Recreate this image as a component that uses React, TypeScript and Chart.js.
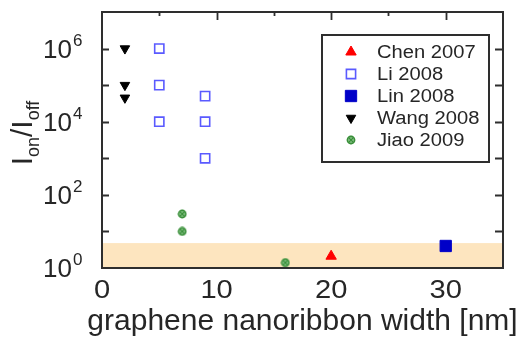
import React, { useEffect, useRef } from 'react';
import { Chart, registerables } from 'chart.js';

Chart.register(...registerables);

// Reported on/off current ratios versus graphene nanoribbon width
const SERIES_NAMES = ['Chen 2007', 'Li 2008', 'Lin 2008', 'Wang 2008', 'Jiao 2009'];

const CHEN_WIDTH = [20];
const CHEN_RATIO = [2.1];

const LI_WIDTH = [5, 5, 5, 9, 9, 9];
const LI_RATIO = [1e6, 1e5, 1e4, 5e4, 1e4, 1e3];

const LIN_WIDTH = [30];
const LIN_RATIO = [4];

const WANG_WIDTH = [2, 2, 2];
const WANG_RATIO = [1e6, 1e5, 4.5e4];

const JIAO_WIDTH = [7, 7, 16];
const JIAO_RATIO = [30, 10, 1.4];

const X_RANGE = [0, 35];
const Y_RANGE = [1, 1e7];
const X_MAJOR_TICKS = [0, 10, 20, 30];
const X_MINOR_TICKS = [5, 15, 25];
const Y_DECADE_TICKS = [10, 100, 1e3, 1e4, 1e5, 1e6];
const Y_LABEL_EXPONENTS = [0, 2, 4, 6];

// Shaded region of low on/off ratio
const BAND_RANGE = [1, 4.8];

const TEXT_COLOR = '#262626';
const AXIS_COLOR = '#2e2e2e';

const toPoints = (xs: number[], ys: number[]) => xs.map((x, i) => ({ x, y: ys[i] }));

function makeJiaoMarker(): HTMLCanvasElement {
  const c = document.createElement('canvas');
  c.width = 10;
  c.height = 10;
  const g = c.getContext('2d')!;
  g.fillStyle = '#8fc88f';
  g.beginPath();
  g.arc(5, 5, 4.2, 0, Math.PI * 2);
  g.fill();
  g.strokeStyle = '#3a8f3a';
  g.lineWidth = 1.6;
  g.beginPath();
  g.arc(5, 5, 3.6, 0, Math.PI * 2);
  g.stroke();
  g.lineWidth = 1.2;
  g.beginPath();
  g.moveTo(3, 3);
  g.lineTo(7, 7);
  g.moveTo(7, 3);
  g.lineTo(3, 7);
  g.stroke();
  return c;
}

function stretchedText(
  ctx: CanvasRenderingContext2D,
  text: string,
  x: number,
  y: number,
  font: string,
  align: CanvasTextAlign,
  sx: number
) {
  ctx.save();
  ctx.font = font;
  ctx.textAlign = align;
  ctx.textBaseline = 'alphabetic';
  ctx.fillStyle = TEXT_COLOR;
  ctx.translate(x, y);
  ctx.scale(sx, 1);
  ctx.fillText(text, 0, 0);
  ctx.restore();
}

function drawMarker(ctx: CanvasRenderingContext2D, ds: any, x: number, y: number) {
  const style = ds.pointStyle;
  const r = ds.pointRadius;
  ctx.save();
  ctx.fillStyle = ds.pointBackgroundColor;
  ctx.strokeStyle = ds.pointBorderColor;
  ctx.lineWidth = ds.pointBorderWidth;
  if (style instanceof HTMLCanvasElement) {
    ctx.drawImage(style, x - style.width / 2, y - style.height / 2);
  } else if (style === 'triangle') {
    let a = ((ds.pointRotation || 0) * Math.PI) / 180;
    ctx.beginPath();
    for (let k = 0; k < 3; k++) {
      const px = x + Math.sin(a) * r;
      const py = y - Math.cos(a) * r;
      if (k === 0) ctx.moveTo(px, py);
      else ctx.lineTo(px, py);
      a += (2 * Math.PI) / 3;
    }
    ctx.closePath();
    ctx.fill();
    ctx.stroke();
  } else {
    const s = Math.SQRT1_2 * r;
    ctx.beginPath();
    ctx.rect(x - s, y - s, 2 * s, 2 * s);
    ctx.fill();
    ctx.stroke();
  }
  ctx.restore();
}

const bandPlugin = {
  id: 'lowRatioBand',
  beforeDatasetsDraw(chart: any) {
    const { ctx, chartArea, scales } = chart;
    const yTop = scales.y.getPixelForValue(BAND_RANGE[1]);
    const yBot = scales.y.getPixelForValue(BAND_RANGE[0]);
    ctx.save();
    ctx.fillStyle = '#fde5bf';
    ctx.fillRect(chartArea.left, yTop, chartArea.right - chartArea.left, yBot - yTop);
    ctx.restore();
  },
};

const framePlugin = {
  id: 'frameAndLabels',
  afterDatasetsDraw(chart: any) {
    const { ctx, chartArea, scales } = chart;
    const { left, right, top, bottom } = chartArea;
    const xs = scales.x;
    const ys = scales.y;

    ctx.save();
    ctx.strokeStyle = AXIS_COLOR;
    ctx.lineWidth = 2;
    ctx.strokeRect(left, top, right - left, bottom - top);

    // inward tick marks
    ctx.lineWidth = 1.8;
    ctx.beginPath();
    for (const v of Y_DECADE_TICKS) {
      const py = Math.round(ys.getPixelForValue(v)) + 0.5;
      ctx.moveTo(left, py);
      ctx.lineTo(left + 7, py);
      ctx.moveTo(right, py);
      ctx.lineTo(right - 8, py);
    }
    for (const v of X_MAJOR_TICKS.slice(1)) {
      const px = Math.round(xs.getPixelForValue(v)) + 0.5;
      ctx.moveTo(px, top);
      ctx.lineTo(px, top + 8);
    }
    for (const v of X_MINOR_TICKS) {
      const px = Math.round(xs.getPixelForValue(v)) + 0.5;
      ctx.moveTo(px, top);
      ctx.lineTo(px, top + 4);
    }
    ctx.stroke();
    ctx.restore();

    const family = '"Liberation Sans", Arial, sans-serif';

    // y tick labels as powers of ten
    for (const e of Y_LABEL_EXPONENTS) {
      const py = ys.getPixelForValue(Math.pow(10, e));
      stretchedText(ctx, '10', left - 30, py + 9, `26px ${family}`, 'right', 1.0);
      stretchedText(ctx, String(e), left - 29, py - 3, `17px ${family}`, 'left', 1.0);
    }

    // x tick labels
    for (const v of X_MAJOR_TICKS) {
      const px = xs.getPixelForValue(v);
      stretchedText(ctx, String(v), px, bottom + 30, `26px ${family}`, 'center', 1.12);
    }

    // x title
    stretchedText(
      ctx,
      'graphene nanoribbon width [nm]',
      (left + right) / 2 + 0,
      bottom + 62,
      `30px ${family}`,
      'center',
      1.0
    );

    // y title: I_on / I_off, rotated
    ctx.save();
    ctx.translate(32, (top + bottom) / 2 - 7);
    ctx.rotate(-Math.PI / 2);
    ctx.fillStyle = TEXT_COLOR;
    ctx.textBaseline = 'alphabetic';
    const big = `30px ${family}`;
    const small = `18px ${family}`;
    const parts: [string, string, number][] = [
      ['I', big, 0],
      ['on', small, 7],
      ['/', big, 0],
      ['I', big, 0],
      ['off', small, 7],
    ];
    ctx.font = big;
    let total = 0;
    for (const [t, f] of parts) {
      ctx.font = f;
      total += ctx.measureText(t).width;
    }
    let cx = -total / 2;
    for (const [t, f, dy] of parts) {
      ctx.font = f;
      ctx.fillText(t, cx, dy);
      cx += ctx.measureText(t).width;
    }
    ctx.restore();

    // legend box
    const bx = right - 181;
    const by = top + 23;
    const bw = 167;
    const bh = 127;
    ctx.save();
    ctx.fillStyle = '#ffffff';
    ctx.fillRect(bx, by, bw, bh);
    ctx.strokeStyle = AXIS_COLOR;
    ctx.lineWidth = 2;
    ctx.strokeRect(bx, by, bw, bh);
    ctx.restore();
    chart.data.datasets.forEach((ds: any, i: number) => {
      const rowY = by + 17 + i * 22;
      drawMarker(ctx, ds, bx + 29, rowY);
      stretchedText(ctx, ds.label, bx + 55, rowY + 6, `18px ${family}`, 'left', 1.12);
    });
  },
};

export default function App() {
  const canvasRef = useRef<HTMLCanvasElement | null>(null);

  useEffect(() => {
    if (!canvasRef.current) return;
    const jiaoMarker = makeJiaoMarker();
    const chart = new Chart(canvasRef.current, {
      type: 'scatter',
      data: {
        datasets: [
          {
            label: SERIES_NAMES[0],
            data: toPoints(CHEN_WIDTH, CHEN_RATIO),
            pointStyle: 'triangle',
            pointRadius: 6,
            pointBackgroundColor: '#ff0000',
            pointBorderColor: '#ff0000',
            pointBorderWidth: 1,
          },
          {
            label: SERIES_NAMES[1],
            data: toPoints(LI_WIDTH, LI_RATIO),
            pointStyle: 'rect',
            pointRadius: 6.5,
            pointBackgroundColor: 'rgba(255,255,255,0)',
            pointBorderColor: '#5a5aff',
            pointBorderWidth: 1.6,
          },
          {
            label: SERIES_NAMES[2],
            data: toPoints(LIN_WIDTH, LIN_RATIO),
            pointStyle: 'rect',
            pointRadius: 8,
            pointBackgroundColor: '#0000c8',
            pointBorderColor: '#0000c8',
            pointBorderWidth: 1,
          },
          {
            label: SERIES_NAMES[3],
            data: toPoints(WANG_WIDTH, WANG_RATIO),
            pointStyle: 'triangle',
            pointRotation: 180,
            pointRadius: 5.5,
            pointBackgroundColor: '#000000',
            pointBorderColor: '#000000',
            pointBorderWidth: 1,
          },
          {
            label: SERIES_NAMES[4],
            data: toPoints(JIAO_WIDTH, JIAO_RATIO),
            pointStyle: jiaoMarker,
            pointRadius: 5,
            pointBackgroundColor: '#3a8f3a',
            pointBorderColor: '#3a8f3a',
            pointBorderWidth: 1,
          },
        ] as any,
      },
      options: {
        responsive: false,
        animation: false,
        events: [],
        layout: { padding: { left: 102, right: 18, top: 12, bottom: 70 } },
        plugins: {
          legend: { display: false },
          tooltip: { enabled: false },
        },
        scales: {
          x: { type: 'linear', min: X_RANGE[0], max: X_RANGE[1], display: false },
          y: { type: 'logarithmic', min: Y_RANGE[0], max: Y_RANGE[1], display: false },
        },
      },
      plugins: [bandPlugin, framePlugin],
    });
    return () => chart.destroy();
  }, []);

  return (
    <div style={{ position: 'absolute', left: 0, top: 0, width: 521, height: 338, background: '#fff' }}>
      <canvas ref={canvasRef} width={521} height={338} style={{ display: 'block' }} />
    </div>
  );
}
